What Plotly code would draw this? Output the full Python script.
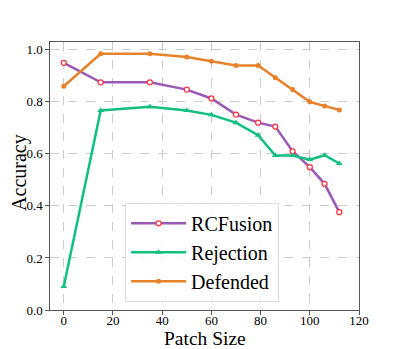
import plotly.graph_objects as go

# patch sizes and accuracies
patch_size = [0, 15, 35, 50, 60, 70, 79, 86, 93, 100, 106, 112]
rcfusion = [0.95, 0.875, 0.875, 0.847, 0.813, 0.751, 0.72, 0.705, 0.61, 0.549, 0.485, 0.376]
rejection = [0.09, 0.767, 0.781, 0.767, 0.75, 0.72, 0.672, 0.594, 0.594, 0.578, 0.595, 0.563]
defended = [0.86, 0.985, 0.985, 0.972, 0.956, 0.94, 0.94, 0.893, 0.847, 0.80, 0.784, 0.769]

x_ticks = [0, 20, 40, 60, 80, 100, 120]
y_ticks = [0.0, 0.2, 0.4, 0.6, 0.8, 1.0]

purple = '#9b59b6'
green = '#12bf80'
orange = '#e8822a'
serif = 'Liberation Serif, Times New Roman, serif'

fig = go.Figure()

fig.add_trace(go.Scatter(
    x=patch_size, y=rcfusion, name='RCFusion', mode='lines+markers',
    line=dict(color=purple, width=2.5),
    marker=dict(symbol='circle', size=5, color='white', line=dict(color='#ff3344', width=1.3))
))
fig.add_trace(go.Scatter(
    x=patch_size, y=rejection, name='Rejection', mode='lines+markers',
    line=dict(color=green, width=2.5),
    marker=dict(symbol='triangle-up', size=6, color=green)
))
fig.add_trace(go.Scatter(
    x=patch_size, y=defended, name='Defended', mode='lines+markers',
    line=dict(color=orange, width=2.5),
    marker=dict(symbol='circle', size=5, color=orange)
))

axis_style = dict(
    showline=True, linecolor='#555555', linewidth=1.2, mirror=True,
    showgrid=True, gridcolor='#cccccc', griddash='dash', gridwidth=0.8,
    ticks='outside', ticklen=3.5, tickcolor='#555555',
    tickfont=dict(family=serif, size=13, color='black'),
    zeroline=False, automargin=False,
)

# axis titles as annotations so they sit where the reference has them
fig.add_annotation(text='Accuracy', xref='paper', yref='paper', x=-0.099, y=0.513,
                   textangle=-90, showarrow=False, xanchor='center', yanchor='middle',
                   font=dict(family=serif, size=20, color='black'))
fig.add_annotation(text='Patch Size', xref='paper', yref='paper', x=0.5, y=-0.106,
                   showarrow=False, xanchor='center', yanchor='middle',
                   font=dict(family=serif, size=19.5, color='black'))

# page body has an 8px margin, so the figure is a bit smaller and shifted
fig.update_layout(
    width=391, height=341,
    margin=dict(l=42, r=40, t=34, b=39),
    paper_bgcolor='white', plot_bgcolor='white',
    font=dict(family=serif, color='black'),
    xaxis=dict(range=[-5.6, 120], tickvals=x_ticks, ticklabelstandoff=-5, **axis_style),
    yaxis=dict(range=[0, 1.03], tickvals=y_ticks, tickformat='.1f', **axis_style),
    legend=dict(
        x=0.243, y=0.40, xanchor='left', yanchor='top', itemwidth=55,
        bgcolor='rgba(255,255,255,0.85)', bordercolor='#dddddd', borderwidth=1,
        font=dict(family=serif, size=20, color='black'),
    ),
    showlegend=True,
)

fig.write_html("out.html")
